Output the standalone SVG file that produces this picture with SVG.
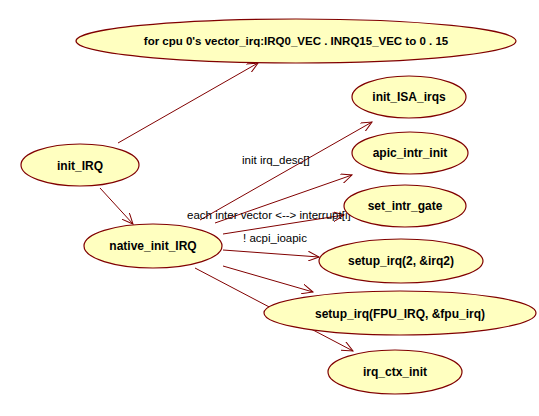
<svg xmlns="http://www.w3.org/2000/svg" width="539" height="416" viewBox="0 0 539 416">
<defs>
<marker id="arr" viewBox="0 0 12 10" refX="11" refY="5" markerWidth="12" markerHeight="10" markerUnits="userSpaceOnUse" orient="auto">
<path d="M0,0 L11,5 L0,10" fill="none" stroke="#800000" stroke-width="1"/>
</marker>
<style>
.n ellipse{fill:#FFFFC0;stroke:#800000;stroke-width:1.2}
.n text{font-family:"Liberation Sans",Arial,sans-serif;font-weight:bold;font-size:12px;text-anchor:middle;fill:#000}
.e line{stroke:#800000;stroke-width:1;marker-end:url(#arr)}
.l{font-family:"Liberation Sans",Arial,sans-serif;font-size:11.5px;fill:#000}
</style>
</defs>
<rect width="539" height="416" fill="#fff"/>
<g id="connectors" class="e">
<line x1="118" y1="143" x2="258" y2="63"/>
<line x1="100" y1="188" x2="133" y2="224"/>
<line x1="200" y1="220" x2="372" y2="122"/>
<line x1="215" y1="223" x2="352" y2="175"/>
<line x1="223" y1="234" x2="344" y2="215"/>
<line x1="223" y1="250" x2="319" y2="257"/>
<line x1="223" y1="266" x2="313" y2="292"/>
<line x1="195" y1="268" x2="353" y2="351"/>
</g>
<g id="labels">
<text class="l" x="242" y="164">init irq_desc[]</text>
<text class="l" x="187" y="219">each inter vector &lt;--&gt; interrupt[i]</text>
<text class="l" x="243" y="242">! acpi_ioapic</text>
</g>
<g id="n_for_cpu" class="n"><ellipse cx="296" cy="41" rx="220" ry="22"/><text x="296" y="45" style="font-size:11.5px">for cpu 0's vector_irq:IRQ0_VEC . INRQ15_VEC to 0 . 15</text></g>
<g id="n_init_IRQ" class="n"><ellipse cx="80" cy="165" rx="59" ry="21"/><text x="80" y="170">init_IRQ</text></g>
<g id="n_native_init_IRQ" class="n"><ellipse cx="153" cy="246" rx="69" ry="22"/><text x="153" y="250">native_init_IRQ</text></g>
<g id="n_init_ISA_irqs" class="n"><ellipse cx="409" cy="97" rx="57" ry="21"/><text x="409" y="101">init_ISA_irqs</text></g>
<g id="n_apic_intr_init" class="n"><ellipse cx="410" cy="153" rx="58" ry="21"/><text x="410" y="157">apic_intr_init</text></g>
<g id="n_set_intr_gate" class="n"><ellipse cx="405" cy="206" rx="61" ry="21"/><text x="405" y="210">set_intr_gate</text></g>
<g id="n_setup_irq2" class="n"><ellipse cx="401" cy="261" rx="82" ry="22"/><text x="401" y="265">setup_irq(2, &amp;irq2)</text></g>
<g id="n_setup_irq_fpu" class="n"><ellipse cx="400" cy="313" rx="136" ry="22"/><text x="400" y="318">setup_irq(FPU_IRQ, &amp;fpu_irq)</text></g>
<g id="n_irq_ctx_init" class="n"><ellipse cx="395" cy="372" rx="67" ry="22"/><text x="395" y="376">irq_ctx_init</text></g>
</svg>
